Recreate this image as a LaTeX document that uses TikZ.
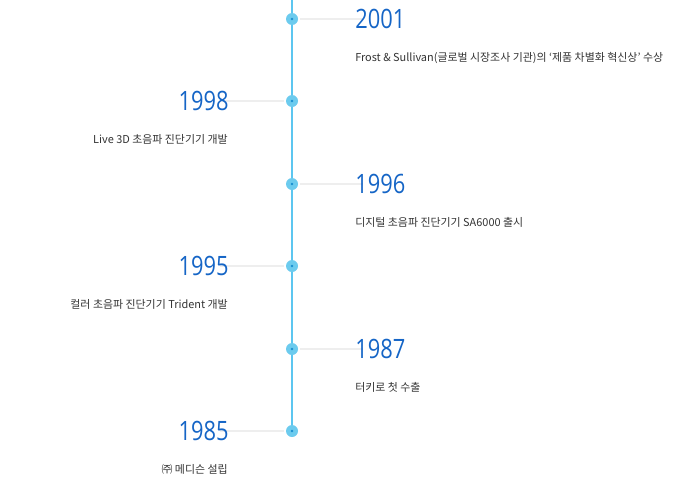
\documentclass[tikz,border=0pt]{standalone}
\usepackage{fontspec}
\setmainfont{Noto Sans CJK KR}
\newfontfamily\yearfont[FakeStretch=0.82]{Open Sans}
\definecolor{lineblue}{HTML}{5CC6F0}
\definecolor{dotblue}{HTML}{6CCBEE}
\definecolor{dotcore}{HTML}{1A8FD0}
\definecolor{yearblue}{HTML}{1565C6}
\definecolor{desc}{HTML}{333333}
\definecolor{tick}{HTML}{EEEEEE}
\begin{document}
\begin{tikzpicture}[x=0.75pt,y=-0.75pt,
  yearR/.style={anchor=base west,inner sep=0pt,text=yearblue,font=\yearfont\fontsize{20}{24}\selectfont},
  yearL/.style={anchor=base east,inner sep=0pt,text=yearblue,font=\yearfont\fontsize{20}{24}\selectfont},
  descR/.style={anchor=base west,inner sep=0pt,text=desc,font=\fontsize{8.2}{10}\selectfont},
  descL/.style={anchor=base east,inner sep=0pt,text=desc,font=\fontsize{8.2}{10}\selectfont},
  dot/.style={circle,fill=dotblue,minimum size=9pt,inner sep=0pt},
  core/.style={circle,fill=dotcore,minimum size=2pt,inner sep=0pt},
  ticker/.style={draw=tick,line width=1pt}]
\useasboundingbox (0,0) rectangle (680,496);
\coordinate (top) at (292,0);
\foreach \n/\y in {a/19,b/101,c/184,d/266,e/349,f/431}{
  \coordinate (\n) at (292,\y);
}
\draw[lineblue,line width=0.9pt] (top) -- (f);
% ticks
\foreach \n in {a,c,e}{
  \draw[ticker] ([xshift=6]\n) -- ([xshift=53]\n);
}
\foreach \n in {b,d,f}{
  \draw[ticker] ([xshift=-6]\n) -- ([xshift=-54]\n);
}
\foreach \n in {a,b,c,d,e,f}{
  \node[dot] (d\n) at (\n) {};
  \node[core] at (\n) {};
}
\node[yearR] (ya) at (355,28) {2001};
\node[descR] (ta) at (355,61) {Frost \& Sullivan(글로벌 시장조사 기관)의 ‘제품 차별화 혁신상’ 수상};
\node[yearL] (yb) at (229,110) {1998};
\node[descL] (tb) at (228,143) {Live 3D 초음파 진단기기 개발};
\node[yearR] (yc) at (355,193) {1996};
\node[descR] (tc) at (355,226) {디지털 초음파 진단기기 SA6000 출시};
\node[yearL] (yd) at (229,275) {1995};
\node[descL] (td) at (228,308) {컬러 초음파 진단기기 Trident 개발};
\node[yearR] (ye) at (355,358) {1987};
\node[descR] (te) at (355,391) {터키로 첫 수출};
\node[yearL] (yf) at (229,440) {1985};
\node[descL] (tf) at (228,473) {㈜ 메디슨 설립};
\end{tikzpicture}
\end{document}
